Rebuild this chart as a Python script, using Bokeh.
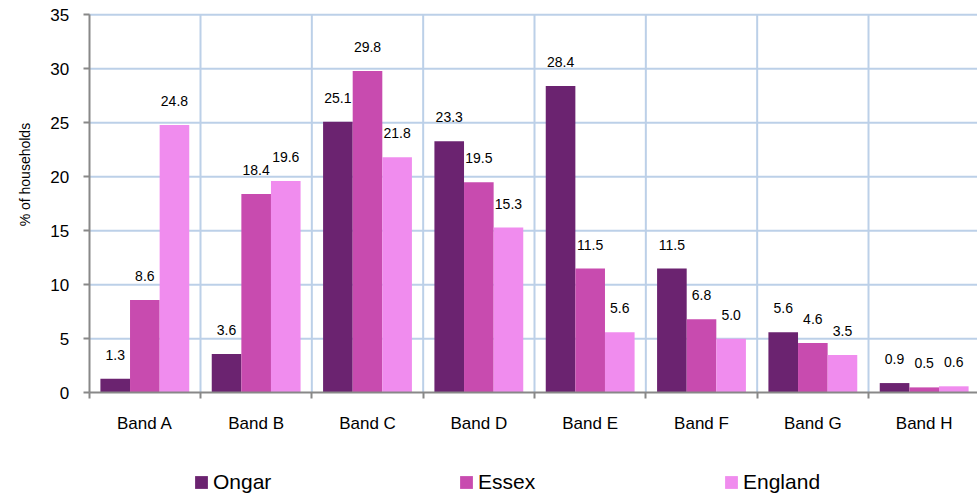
from math import pi
from bokeh.plotting import figure
from bokeh.models import (ColumnDataSource, FixedTicker, Legend, LegendItem, Range1d, LinearAxis)
from bokeh.transform import dodge
from bokeh.core.properties import value
from bokeh.embed import file_html
from bokeh.resources import INLINE

categories = ["Band A", "Band B", "Band C", "Band D", "Band E", "Band F", "Band G", "Band H"]
ongar = [1.3, 3.6, 25.1, 23.3, 28.4, 11.5, 5.6, 0.9]
essex = [8.6, 18.4, 29.8, 19.5, 11.5, 6.8, 4.6, 0.5]
england = [24.8, 19.6, 21.8, 15.3, 5.6, 5.0, 3.5, 0.6]
series_names = ["Ongar", "Essex", "England"]
colors = ["#6B2370", "#C84BAF", "#F08CEE"]
y_ticks = [0, 5, 10, 15, 20, 25, 30, 35]
y_title = "% of households"

centers = [i + 0.5 for i in range(len(categories))]
bounds = list(range(len(categories) + 1))

src = ColumnDataSource(dict(
    x=centers,
    ongar=ongar, essex=essex, england=england,
    ongar_lbl=[f"{v:.1f}" for v in ongar],
    essex_lbl=[f"{v:.1f}" for v in essex],
    england_lbl=[f"{v:.1f}" for v in england],
))

# the frame spans the whole canvas; axes are pinned at x=0 / y=0
p = figure(width=977, height=496, output_backend="svg", toolbar_location=None,
           x_range=Range1d(-0.7964, 7.979), y_range=Range1d(-9.602, 36.32),
           x_axis_type=None, y_axis_type=None,
           min_border_left=0, min_border_right=0, min_border_top=0, min_border_bottom=0)
p.outline_line_color = None
p.background_fill_color = "white"
p.border_fill_color = "white"

grid_col = "#BCD0E8"
# horizontal grid lines
p.segment(x0=[bounds[0]] * (len(y_ticks) - 1), y0=y_ticks[1:],
          x1=[bounds[-1]] * (len(y_ticks) - 1), y1=y_ticks[1:],
          line_color=grid_col, line_width=2)
# vertical grid lines at category boundaries
p.segment(x0=bounds[1:], y0=[y_ticks[0]] * (len(bounds) - 1),
          x1=bounds[1:], y1=[y_ticks[-1]] * (len(bounds) - 1),
          line_color=grid_col, line_width=2)

axis_col = "#888888"
xa = LinearAxis(fixed_location=0, bounds=(bounds[0], bounds[-1]))
xa.ticker = FixedTicker(ticks=centers, minor_ticks=bounds)
xa.major_label_overrides = {c: name for c, name in zip(centers, categories)}
xa.major_tick_line_color = None
xa.major_tick_out = 0
xa.major_tick_in = 0
xa.minor_tick_line_color = axis_col
xa.minor_tick_line_width = 2
xa.minor_tick_out = 6
xa.minor_tick_in = 0
xa.axis_line_color = axis_col
xa.axis_line_width = 2
xa.major_label_text_font = "Liberation Sans"
xa.major_label_text_font_size = "17px"
xa.major_label_text_color = "#000000"
xa.major_label_standoff = 15
p.add_layout(xa, "below")

ya = LinearAxis(fixed_location=0, bounds=(y_ticks[0], y_ticks[-1]))
ya.ticker = FixedTicker(ticks=y_ticks)
ya.minor_tick_line_color = None
ya.major_tick_line_color = axis_col
ya.major_tick_line_width = 2
ya.major_tick_out = 6
ya.major_tick_in = 0
ya.axis_line_color = axis_col
ya.axis_line_width = 2
ya.major_label_text_font = "Liberation Sans"
ya.major_label_text_font_size = "17px"
ya.major_label_text_color = "#000000"
ya.major_label_standoff = 14
p.add_layout(ya, "left")

w = 0.266
offsets = [-w, 0.0, w]
fields = ["ongar", "essex", "england"]
renderers = []
for f, off, col in zip(fields, offsets, colors):
    r = p.vbar(x=dodge("x", off, range=p.x_range), top=f, width=w, source=src,
               fill_color=col, line_color=None)
    renderers.append(r)
    p.text(x=dodge("x", off, range=p.x_range), y=f, text=f + "_lbl", source=src,
           text_align="center", text_baseline="middle", y_offset=-24,
           text_font=value("Liberation Sans"), text_font_size="14px", text_color="#000000")

# y-axis title
p.text(x=[-0.572], y=[20.2], text=[y_title], angle=pi / 2,
       text_align="center", text_baseline="middle",
       text_font=value("Liberation Sans"), text_font_size="14px", text_color="#000000")

legend = Legend(items=[LegendItem(label=n, renderers=[r]) for n, r in zip(series_names, renderers)],
                orientation="horizontal", location=(193, 2),
                glyph_width=16, glyph_height=16, label_standoff=4, spacing=0,
                label_width=245, padding=0, margin=0,
                label_text_font="Liberation Sans", label_text_font_size="21px",
                label_text_color="#000000",
                border_line_color=None, background_fill_alpha=0)
p.add_layout(legend, "center")

open("out.html", "w").write(file_html(p, INLINE))
